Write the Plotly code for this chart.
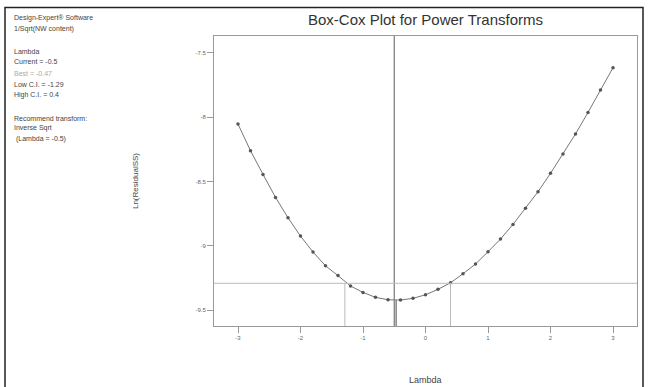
import plotly.graph_objects as go

# ---- data ----
lam = [-3.0, -2.8, -2.6, -2.4, -2.2, -2.0, -1.8, -1.6, -1.4, -1.2, -1.0,
       -0.8, -0.6, -0.4, -0.2, 0.0, 0.2, 0.4, 0.6, 0.8, 1.0,
       1.2, 1.4, 1.6, 1.8, 2.0, 2.2, 2.4, 2.6, 2.8, 3.0]
ln_rss = [-8.054, -8.261, -8.445, -8.624, -8.782, -8.925, -9.049, -9.156, -9.232, -9.313, -9.363,
          -9.401, -9.420, -9.422, -9.409, -9.381, -9.339, -9.288, -9.218, -9.142, -9.047,
          -8.948, -8.834, -8.709, -8.580, -8.437, -8.287, -8.131, -7.963, -7.789, -7.616]
current_lambda = -0.5
best_lambda = -0.47
low_ci = -1.29
high_ci = 0.4
ci_level = -9.292
min_ln = -9.424

x_ticks = [-3, -2, -1, 0, 1, 2, 3]
x_tick_text = ["-3", "-2", "-1", "0", "1", "2", "3"]
y_ticks = [-9.5, -9, -8.5, -8, -7.5]
y_tick_text = ["-9.5", "-9", "-8.5", "-8", "-7.5"]

info_lines = [
    ("Design-Expert® Software", "#444"),
    ("1/Sqrt(NW content)", "#444"),
    ("", "#444"),
    ("Lambda", "#444"),
    ("Current = -0.5", "#444"),
    ("Best = -0.47", "#aaa"),
    ("Low C.I. = -1.29", "#444"),
    ("High C.I. = 0.4", "#444"),
    ("", "#444"),
    ("Recommend transform:", "#444"),
    ("Inverse Sqrt", "#444"),
    (" (Lambda = -0.5)", "#444"),
]

W, H = 648, 387
L, R, T, B = 214, 11, 36, 61
pw, ph = W - L - R, H - T - B

def px_x(px):
    return (px - L) / pw

def px_y(py):
    return (H - B - py) / ph

fig = go.Figure()

fig.add_trace(go.Scatter(
    x=lam, y=ln_rss, mode="lines+markers",
    line=dict(color="#777", width=1),
    marker=dict(color="#555", size=3.5),
    showlegend=False, hoverinfo="skip"))

line_gray = "#bbb"
# current lambda vertical line (full height)
fig.add_shape(type="line", xref="x", yref="y domain", x0=current_lambda, x1=current_lambda,
              y0=0, y1=1, line=dict(color="#777", width=1.2))
# best lambda from minimum to bottom
fig.add_shape(type="line", xref="x", yref="y", x0=best_lambda, x1=best_lambda,
              y0=min_ln, y1=-9.624, line=dict(color="#666", width=1.2))
# CI horizontal line
fig.add_shape(type="line", xref="x domain", yref="y", x0=0, x1=1,
              y0=ci_level, y1=ci_level, line=dict(color=line_gray, width=1))
# CI vertical lines
for c in (low_ci, high_ci):
    fig.add_shape(type="line", xref="x", yref="y", x0=c, x1=c,
                  y0=ci_level, y1=-9.624, line=dict(color=line_gray, width=1))

# outer frame
fig.add_shape(type="rect", xref="paper", yref="paper",
              x0=px_x(5), x1=px_x(643), y0=px_y(395), y1=px_y(7.5),
              line=dict(color="#222", width=1.5), layer="below")

# info text
ys = [18, 29, 40, 51, 62, 73, 84, 95, 106, 118, 128, 139]
for (txt, col), yy in zip(info_lines, ys):
    if not txt:
        continue
    fig.add_annotation(text=txt, xref="paper", yref="paper",
                       x=px_x(12), y=px_y(yy), xanchor="left", yanchor="middle",
                       showarrow=False, font=dict(size=7, color=col,
                                                  family="Liberation Sans, Arial"))

# x axis title
fig.add_annotation(text="Lambda", xref="paper", yref="paper",
                   x=px_x(425.5), y=px_y(380), xanchor="center", yanchor="middle",
                   showarrow=False, font=dict(size=9, color="#444",
                                              family="Liberation Sans, Arial"))

fig.update_layout(
    width=W, height=H,
    margin=dict(l=L, r=R, t=T, b=B, autoexpand=False),
    paper_bgcolor="white", plot_bgcolor="white",
    title=dict(text="Box-Cox Plot for Power Transforms", x=px_x(425.5), xref="paper",
               xanchor="center", y=1 - 20 / H, yanchor="middle",
               font=dict(size=15, color="#333", family="Liberation Sans, Arial")),
    font=dict(family="Liberation Sans, Arial", color="#444"),
)

fig.update_xaxes(range=[-3.384, 3.384], tickvals=x_ticks, ticktext=x_tick_text,
                 showgrid=False, zeroline=False, showline=True, linecolor="#999",
                 linewidth=1, mirror=True, ticks="outside", ticklen=6, tickcolor="#999",
                 tickfont=dict(size=6, color="#666"), automargin=False)
fig.update_yaxes(range=[-9.624, -7.369], tickvals=y_ticks, ticktext=y_tick_text,
                 showgrid=False, zeroline=False, showline=True, linecolor="#999",
                 linewidth=1, mirror=True, ticks="outside", ticklen=6, tickcolor="#999",
                 tickfont=dict(size=6, color="#666"), automargin=False,
                 title=dict(text="Ln(ResidualSS)", font=dict(size=8, color="#444"), standoff=55))

fig.write_html("out.html")
